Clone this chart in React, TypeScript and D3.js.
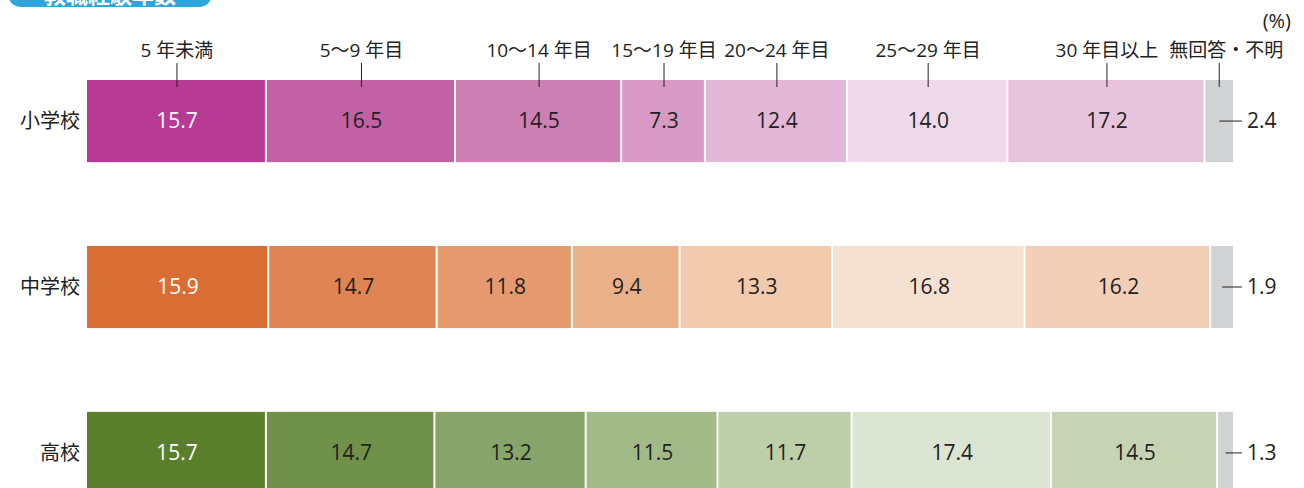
import React, { useEffect, useRef } from "react";
import * as d3 from "d3";

const schools = ["小学校", "中学校", "高校"];
const categories = ["5 年未満", "5〜9 年目", "10〜14 年目", "15〜19 年目", "20〜24 年目", "25〜29 年目", "30 年目以上", "無回答・不明"];
const elementary = [15.7, 16.5, 14.5, 7.3, 12.4, 14.0, 17.2, 2.4];
const juniorHigh = [15.9, 14.7, 11.8, 9.4, 13.3, 16.8, 16.2, 1.9];
const highSchool = [15.7, 14.7, 13.2, 11.5, 11.7, 17.4, 14.5, 1.3];

const palettes = [
  ["#B83A94", "#C262A4", "#CC80B3", "#D69AC4", "#E2B8D6", "#F0DAE9", "#E7C3DC", "#D1D2D4"],
  ["#D96E34", "#E08454", "#E49A6E", "#EAB08A", "#F2CAAE", "#F6E0D2", "#F2CFB6", "#D1D2D4"],
  ["#5A7F2C", "#6F914A", "#87A46A", "#A2BA88", "#BDCFA9", "#DCE4D2", "#C6D4B4", "#D1D2D4"],
];

const FONT = "'Open Sans', 'Noto Sans CJK JP', sans-serif";

export default function App() {
  const ref = useRef<SVGSVGElement>(null);

  useEffect(() => {
    const svg = d3.select(ref.current);
    svg.selectAll("*").remove();

    const rows = [elementary, juniorHigh, highSchool];
    const x = d3.scaleLinear().domain([0, 100]).range([87, 1233]);
    const y = d3.scaleBand().domain(schools).range([80, 494]).paddingInner(0.505).paddingOuter(0);
    const bw = y.bandwidth();

    // title badge (cut off at top, as in the source)
    svg.append("rect").attr("x", 8).attr("y", -30).attr("width", 204).attr("height", 37).attr("rx", 13).attr("fill", "#2EA6DC");
    svg.append("text").attr("x", 110).attr("y", 3).attr("text-anchor", "middle").attr("fill", "#fff")
      .attr("font-size", 22).attr("font-weight", 700).attr("font-family", FONT).text("教職経験年数");

    rows.forEach((vals, ri) => {
      const school = schools[ri];
      const y0 = y(school)!;
      const cum = d3.cumsum([0, ...vals]);
      const g = svg.append("g");

      g.selectAll("rect").data(vals).enter().append("rect")
        .attr("x", (_, i) => x(cum[i]))
        .attr("y", y0)
        .attr("width", (_, i) => x(cum[i + 1]) - x(cum[i]) - (i < vals.length - 1 ? 2 : 0))
        .attr("height", bw)
        .attr("fill", (_, i) => palettes[ri][i]);

      g.selectAll("text.v").data(vals.slice(0, -1)).enter().append("text")
        .attr("class", "v")
        .attr("x", (_, i) => (x(cum[i]) + x(cum[i + 1])) / 2)
        .attr("y", y0 + bw / 2 + 7)
        .attr("text-anchor", "middle")
        .attr("font-size", 21)
        .attr("font-family", FONT)
        .attr("fill", (_, i) => (i === 0 ? "#fff" : "#222"))
        .text((d) => d.toFixed(1));

      const last = vals.length - 1;
      const gx = (x(cum[last]) + x(cum[last + 1])) / 2;
      g.append("line").attr("x1", gx).attr("x2", 1242).attr("y1", y0 + bw / 2).attr("y2", y0 + bw / 2)
        .attr("stroke", "#222").attr("stroke-width", 1);
      g.append("text").attr("x", 1247).attr("y", y0 + bw / 2 + 7).attr("font-size", 21).attr("font-family", FONT)
        .attr("fill", "#222").text(vals[last].toFixed(1));

      g.append("text").attr("x", 80).attr("y", y0 + bw / 2 + 7).attr("text-anchor", "end")
        .attr("font-size", 20).attr("font-family", FONT).attr("fill", "#222").text(school);
    });

    // category labels over the first row
    const cum0 = d3.cumsum([0, ...elementary]);
    const top = svg.append("g");
    categories.forEach((c, i) => {
      const cx = (x(cum0[i]) + x(cum0[i + 1])) / 2;
      top.append("line").attr("x1", cx).attr("x2", cx).attr("y1", 63).attr("y2", 87).attr("stroke", "#222").attr("stroke-width", 1);
      top.append("text").attr("x", i === categories.length - 1 ? cx + 7 : cx).attr("y", 57).attr("text-anchor", "middle")
        .attr("font-size", 19).attr("font-family", FONT).attr("fill", "#222").text(c);
    });
    svg.append("text").attr("x", 1291).attr("y", 28).attr("text-anchor", "end").attr("font-size", 20)
      .attr("font-family", FONT).attr("fill", "#222").text("(%)");
  }, []);

  return (
    <svg ref={ref} width={1304} height={488} style={{ position: "absolute", left: 0, top: 0, background: "#fff" }} />
  );
}
